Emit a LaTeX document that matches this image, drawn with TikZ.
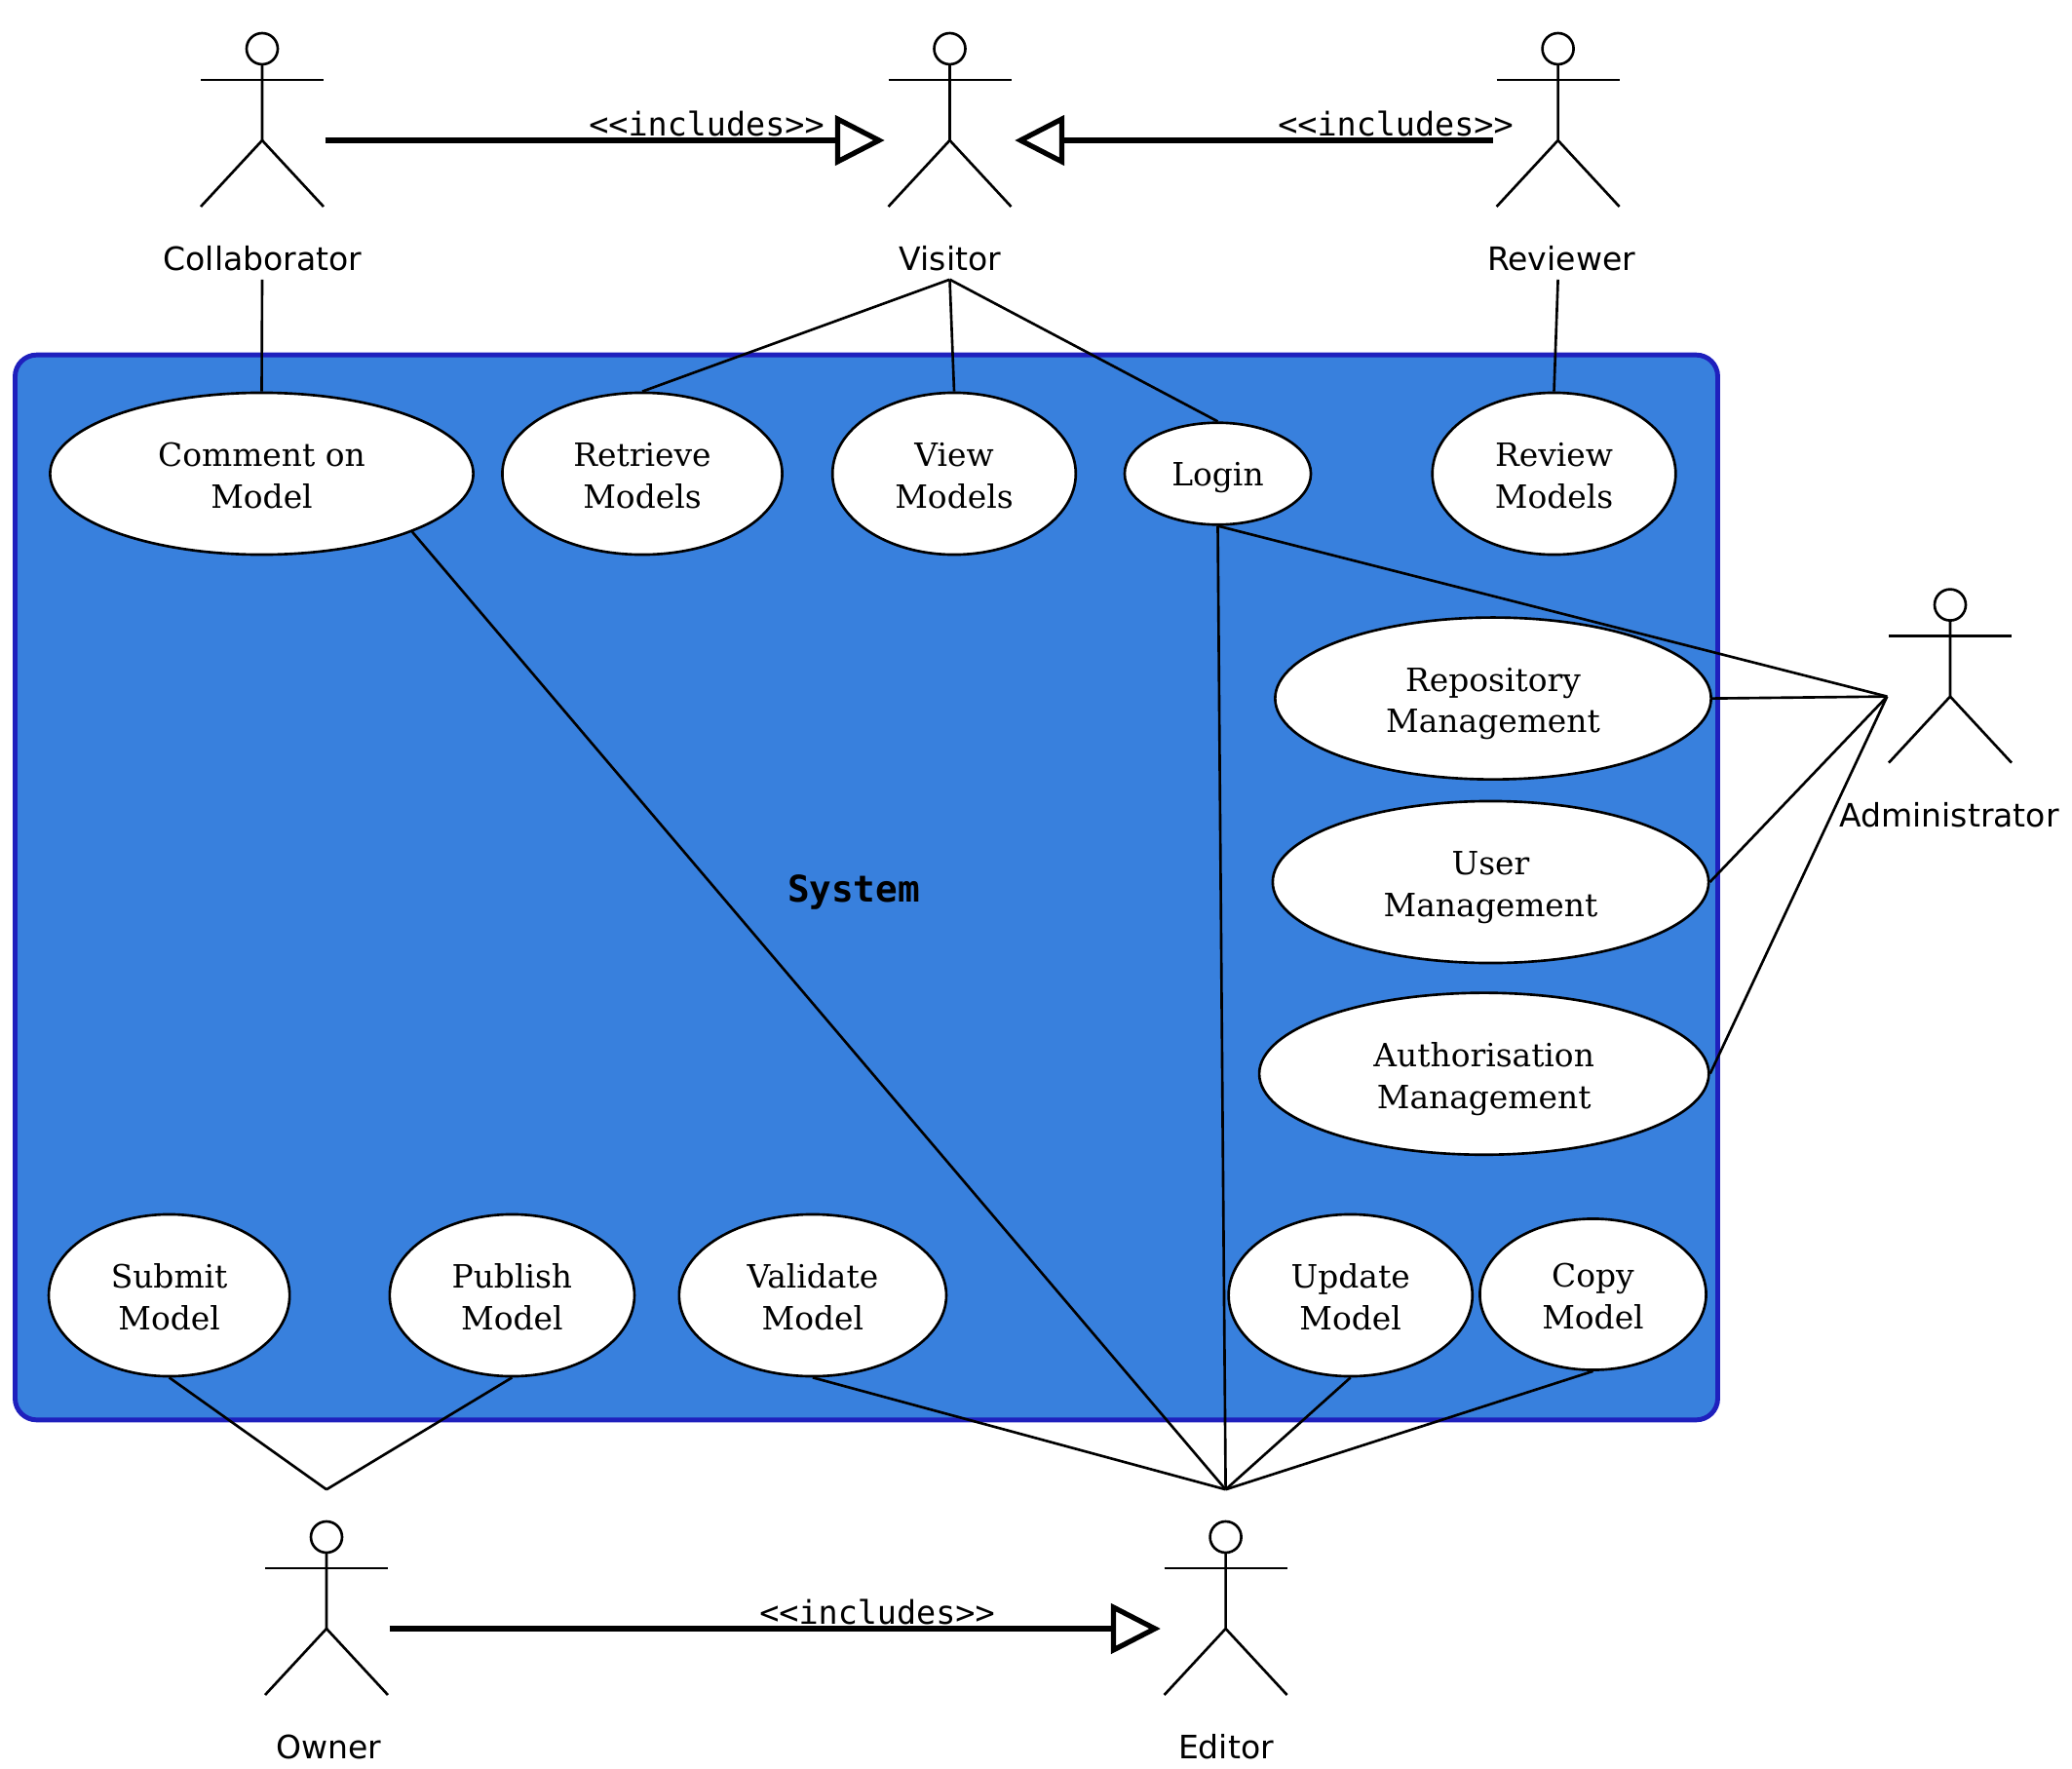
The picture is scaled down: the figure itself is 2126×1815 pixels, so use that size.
\documentclass[tikz,border=0pt]{standalone}
\usepackage{fontspec}
\setmainfont{DejaVu Serif}
\setsansfont{DejaVu Sans}
\setmonofont{DejaVu Sans Mono}
\usetikzlibrary{shapes, arrows.meta, positioning, calc}
\definecolor{sysblue}{RGB}{56, 128, 221}
\definecolor{sysedge}{RGB}{31, 32, 189}
\newcommand{\twolines}[2]{\rule{0pt}{10.2pt}#1\\\rule[-2.2pt]{0pt}{2.2pt}#2}

\begin{document}
\begin{tikzpicture}[
  x=0.01cm, y=-0.01cm,
  usecase/.style={draw, ellipse, fill=white, inner sep=0pt, align=center, line width=0.75pt, minimum height=1.66cm, font=\fontsize{9.35}{12.1}\selectfont},
  actorbox/.style={inner sep=0pt, minimum width=1.32cm, minimum height=2.84cm},
  actorname/.style={inner sep=0pt, font=\sffamily\fontsize{9.4}{11}\selectfont},
  stereotype/.style={inner sep=0pt, font=\ttfamily\fontsize{9.5}{11}\selectfont},
  assoc/.style={line width=0.75pt},
  includes/.style={-{Triangle[open, fill=white, length=14.5pt, width=14.5pt]}, line width=1.5pt}
]
  \useasboundingbox (0,0) rectangle (2126,1815);

  % System
  \node[draw=sysedge, fill=sysblue, line width=1.4pt, rounded corners=0.22cm, inner sep=0pt, minimum width=17.46cm, minimum height=10.92cm] (system) at (889,910.5) {};
  \node[font=\ttfamily\bfseries\fontsize{10.7}{12}\selectfont, inner sep=0pt] (systemname) at (876,915) {System};

  % Actors
  \node[actorbox, minimum width=1.28cm] (collab) at (269,144) {};
  \node[actorbox] (visitor) at (974.5,144) {};
  \node[actorbox] (reviewer) at (1598.6,144) {};
  \node[actorbox, minimum width=1.28cm] (admin) at (2001,714.6) {};
  \node[actorbox, minimum width=1.28cm] (owner) at (335,1671) {};
  \node[actorbox] (editor) at (1257.6,1671) {};

  \foreach \actor in {collab, visitor, reviewer, admin, owner, editor} {
    \draw[assoc] (\actor.center) ++(0,-94) circle[radius=16];
    \draw[assoc] (\actor.center) ++(0,-78) -- (\actor.center) -- ++(-63,68);
    \draw[assoc] (\actor.center) -- ++(63,68);
    \draw[assoc] (\actor.center) ++(-63,-62) -- ++(126,0);
  }

  \node[actorname] (collabname) at (269.5,265) {Collaborator};
  \node[actorname] (visitorname) at (975,265) {Visitor};
  \node[actorname] (reviewername) at (1602,265) {Reviewer};
  \node[actorname] (adminname) at (2000,836) {Administrator};
  \node[actorname] (ownername) at (337,1792) {Owner};
  \node[actorname] (editorname) at (1258,1792) {Editor};

  % Use cases
  \node[usecase, minimum width=4.34cm] (comment) at (268.5,486) {\twolines{Comment on}{Model}};
  \node[usecase, minimum width=2.87cm] (retrieve) at (659,486) {\twolines{Retrieve}{Models}};
  \node[usecase, minimum width=2.495cm] (view) at (979,486) {\twolines{View}{Models}};
  \node[usecase, minimum width=1.91cm, minimum height=1.045cm] (login) at (1249.5,486) {\rule{0pt}{9.4pt}Login};
  \node[usecase, minimum width=2.495cm] (review) at (1594.5,486) {\twolines{Review}{Models}};
  \node[usecase, minimum width=4.47cm] (repository) at (1532,716.6) {\twolines{Repository}{Management}};
  \node[usecase, minimum width=4.47cm] (user) at (1529.5,905) {\twolines{User}{Management}};
  \node[usecase, minimum width=4.61cm] (auth) at (1522.7,1101.7) {\twolines{Authorisation}{Management}};
  \node[usecase, minimum width=2.47cm] (submit) at (173.6,1329) {\twolines{Submit}{Model}};
  \node[usecase, minimum width=2.51cm] (publish) at (525.4,1329) {\twolines{Publish}{Model}};
  \node[usecase, minimum width=2.74cm] (validate) at (833.9,1329) {\twolines{Validate}{Model}};
  \node[usecase, minimum width=2.5cm] (update) at (1385.7,1329) {\twolines{Update}{Model}};
  \node[usecase, minimum width=2.32cm, minimum height=1.55cm] (copy) at (1634.5,1328) {\twolines{Copy}{Model}};

  % Associations
  \draw[assoc] (collab.south) -- (comment.north);
  \draw[assoc] (visitor.south) -- (retrieve.north);
  \draw[assoc] (visitor.south) -- (view.north);
  \draw[assoc] (visitor.south) -- (login.north);
  \draw[assoc] (reviewer.south) -- (review.north);
  \draw[assoc] (comment.south east) -- (editor.north);
  \draw[assoc] (login.south) -- (editor.north);
  \draw[assoc] (login.south) -- (admin.west);
  \draw[assoc] (repository.east) -- (admin.west);
  \draw[assoc] (user.east) -- (admin.west);
  \draw[assoc] (auth.east) -- (admin.west);
  \draw[assoc] (submit.south) -- (owner.north);
  \draw[assoc] (publish.south) -- (owner.north);
  \draw[assoc] (validate.south) -- (editor.north);
  \draw[assoc] (update.south) -- (editor.north);
  \draw[assoc] (copy.south) -- (editor.north);

  % Includes
  \draw[includes] (collab.east) -- (visitor.west);
  \draw[includes] (reviewer.west) -- (visitor.east);
  \draw[includes] (owner.east) -- (editor.west);
  \node[stereotype] (includesa) at (725,127) {<{}<includes>{}>};
  \node[stereotype] (includesb) at (1432,127) {<{}<includes>{}>};
  \node[stereotype] (includesc) at (900,1654) {<{}<includes>{}>};
\end{tikzpicture}
\end{document}
